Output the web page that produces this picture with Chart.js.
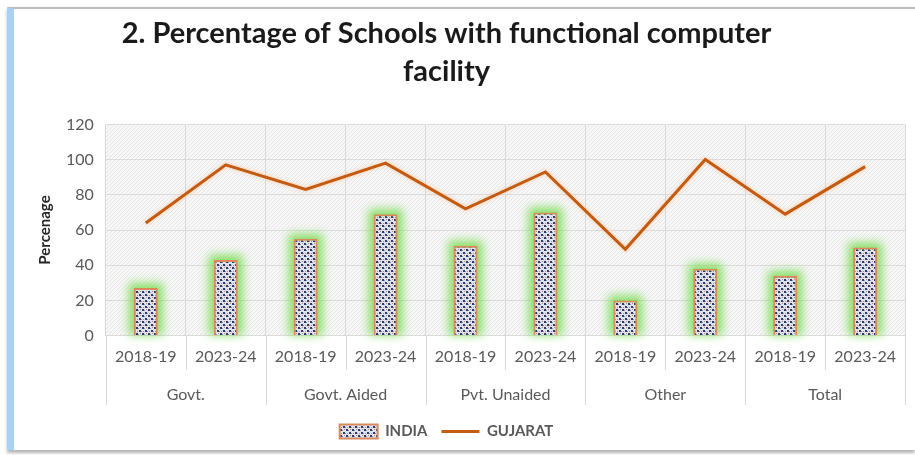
<!DOCTYPE html>
<html lang="en">
  <head>
    <meta charset="UTF-8" />
    <title>Percentage of Schools with functional computer facility</title>
    <script src="https://cdn.jsdelivr.net/npm/chart.js@4.4.1/dist/chart.umd.min.js"></script>
    <style>
      body { margin: 0; background: #fff; overflow: hidden; }
      .frame {
        position: absolute; left: 7px; top: 7px; width: 901px; height: 441px;
        border-left: 7px solid #a9d1f3; border-top: 2px solid #bcbcbc;
        box-shadow: 0 3px 3px #b5b5b5, 1px 0 1px #e4e4e4;
        background: #fff;
      }
      #chart { position: absolute; left: -14px; top: 9px; }
    </style>
  </head>
  <body>
    <div class="frame"></div>
    <canvas id="chart" width="922" height="446"></canvas>
    <script>
      // values
      var years = ["2018-19", "2023-24", "2018-19", "2023-24", "2018-19", "2023-24", "2018-19", "2023-24", "2018-19", "2023-24"];
      var groups = ["Govt.", "Govt. Aided", "Pvt. Unaided", "Other", "Total"];
      var india = [27, 43, 55, 69, 51, 70, 20, 38, 34, 50];
      var gujarat = [64, 97, 83, 98, 72, 93, 49, 100, 69, 96];

      // dotted fill for the INDIA bars
      function dotPattern() {
        var c = document.createElement("canvas");
        c.width = 6; c.height = 6;
        var g = c.getContext("2d");
        g.fillStyle = "#dfe3ee";
        g.fillRect(0, 0, 6, 6);
        g.fillStyle = "#2f3a68";
        g.fillRect(0, 0, 2, 2);
        g.fillRect(3, 3, 2, 2);
        g.fillStyle = "#8a95bd";
        g.fillRect(2, 1, 1, 1);
        g.fillRect(5, 4, 1, 1);
        g.fillStyle = "#c9876a";
        g.fillRect(4, 0, 1, 1);
        g.fillRect(1, 4, 1, 1);
        return g.createPattern(c, "repeat");
      }

      // light diagonal hatch behind the plot
      function hatchPattern() {
        var c = document.createElement("canvas");
        c.width = 4; c.height = 4;
        var g = c.getContext("2d");
        g.fillStyle = "#f7f7f7";
        g.fillRect(0, 0, 4, 4);
        g.fillStyle = "#e7e7e7";
        g.fillRect(0, 3, 1, 1);
        g.fillRect(1, 2, 1, 1);
        g.fillRect(2, 1, 1, 1);
        g.fillRect(3, 0, 1, 1);
        return g.createPattern(c, "repeat");
      }

      var ctx = document.getElementById("chart").getContext("2d");
      var barFill = dotPattern();
      var plotFill = hatchPattern();
      var lineGray = "#d9d9d9";

      var plotBg = {
        id: "plotBg",
        beforeDraw: function (chart) {
          var a = chart.chartArea;
          chart.ctx.save();
          chart.ctx.fillStyle = plotFill;
          chart.ctx.fillRect(a.left, a.top, a.right - a.left, a.bottom - a.top);
          chart.ctx.restore();
        }
      };

      // separators in the two label rows
      var rows = {
        id: "rows",
        afterDraw: function (chart) {
          var x = chart.scales.x, x2 = chart.scales.x2, c = chart.ctx;
          var step = (x.right - x.left) / years.length;
          c.save();
          c.strokeStyle = lineGray;
          c.lineWidth = 1;
          for (var i = 0; i <= years.length; i++) {
            var px = Math.round(x.left + i * step) + 0.5;
            c.beginPath();
            c.moveTo(px, chart.chartArea.bottom);
            c.lineTo(px, i % 2 === 0 ? x2.bottom - 5 : x.bottom - 9);
            c.stroke();
          }
          c.restore();
        }
      };

      // green glow round the bars, soft glow on the line
      var glow = {
        id: "glow",
        beforeDatasetDraw: function (chart, args) {
          var c = chart.ctx;
          c.save();
          if (args.index === 0) {
            c.filter = "blur(5px)";
            c.fillStyle = "rgba(120,220,80,0.85)";
            args.meta.data.forEach(function (b) {
              var w = b.width;
              c.fillRect(b.x - w / 2 - 5, b.y - 5, w + 10, b.base - b.y + 5);
            });
            c.filter = "none";
          } else {
            c.shadowColor = "rgba(250,190,140,0.8)";
            c.shadowBlur = 4;
          }
        },
        afterDatasetDraw: function (chart) {
          chart.ctx.restore();
        }
      };

      var gray = "#595959";

      new Chart(ctx, {
        type: "bar",
        data: {
          labels: years,
          datasets: [
            {
              label: "INDIA",
              data: india,
              backgroundColor: barFill,
              borderColor: "#d9895c",
              borderWidth: 2,
              barPercentage: 0.3,
              categoryPercentage: 1,
              pointStyle: "rect"
            },
            {
              type: "line",
              label: "GUJARAT",
              data: gujarat,
              borderColor: "#c55a11",
              backgroundColor: "#c55a11",
              borderWidth: 3,
              pointRadius: 0,
              pointStyle: "line",
              tension: 0
            }
          ]
        },
        options: {
          responsive: false,
          animation: false,
          layout: { padding: { left: 0, right: 1, top: 0, bottom: 6 } },
          plugins: {
            title: {
              display: true,
              text: ["2. Percentage of Schools with functional computer", "facility"],
              color: "#1a1a1a",
              font: { family: "Lato", size: 29, weight: "bold", lineHeight: 1.3 },
              padding: { top: 6, bottom: 34 }
            },
            legend: {
              position: "bottom",
              labels: {
                usePointStyle: true,
                pointStyleWidth: 38,
                boxHeight: 14,
                color: gray,
                font: { family: "Lato", size: 15, weight: "bold" },
                padding: 14,
                sort: function (a, b) { return a.datasetIndex - b.datasetIndex; }
              }
            },
            tooltip: { enabled: false }
          },
          scales: {
            x: {
              grid: { offset: true, color: lineGray, drawTicks: false },
              border: { display: false },
              ticks: { color: gray, font: { family: "Lato", size: 16 }, padding: 12, maxRotation: 0, autoSkip: false }
            },
            x2: {
              type: "category",
              labels: groups,
              position: "bottom",
              grid: { offset: true, drawOnChartArea: false, drawTicks: false },
              border: { display: false },
              ticks: { color: gray, font: { family: "Lato", size: 16 }, padding: 6, maxRotation: 0, autoSkip: false }
            },
            y: {
              min: 0,
              max: 120,
              ticks: { stepSize: 20, color: gray, font: { family: "Lato", size: 16 }, padding: 12 },
              grid: { color: "#dcdcdc", drawTicks: false },
              border: { display: false },
              title: {
                display: true,
                text: "Percenage",
                color: "#262626",
                font: { family: "Lato", size: 15, weight: "bold" },
                padding: { top: 50, bottom: 0 }
              }
            }
          }
        },
        plugins: [plotBg, glow, rows]
      });
    </script>
  </body>
</html>
